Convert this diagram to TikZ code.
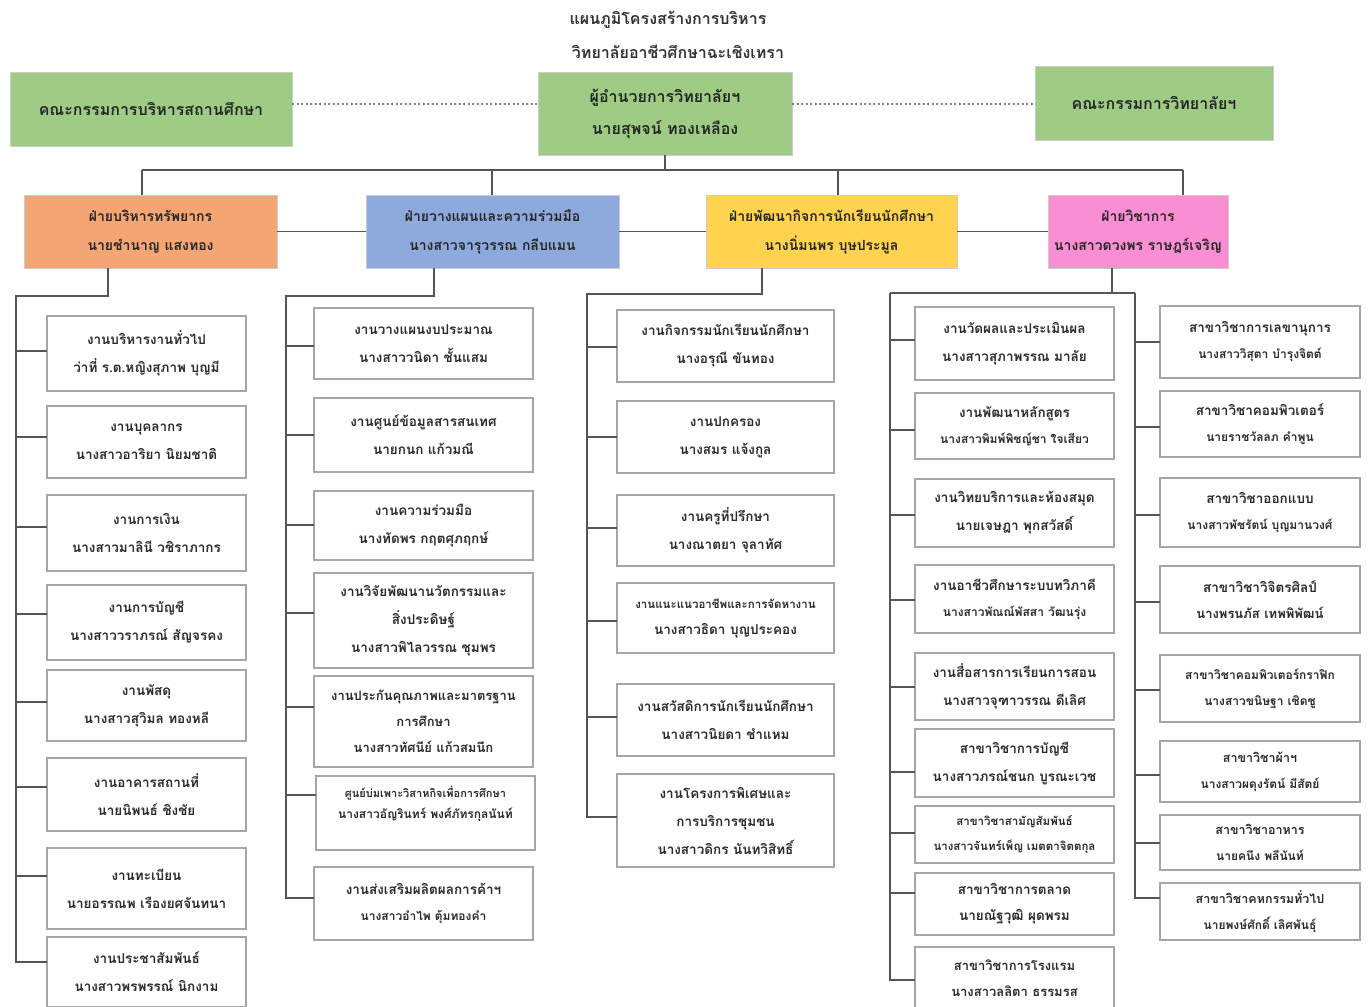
\documentclass[tikz,border=0pt]{standalone}
\usepackage{fontspec}
\newfontfamily\thai[Script=Thai]{Loma}
\definecolor{grn}{HTML}{9FCC85}
\definecolor{org}{HTML}{F4A574}
\definecolor{blu}{HTML}{8EA9DB}
\definecolor{yel}{HTML}{FFD34E}
\definecolor{pnk}{HTML}{FA8ED3}
\definecolor{txt}{HTML}{2A2A2A}
\definecolor{lnc}{HTML}{555555}
\newcommand\sz[2]{{\fontsize{#1}{26}\selectfont #2}}
\tikzset{
  ubox/.style={draw=black!35, line width=1.3pt, fill=white, inner sep=0pt, outer sep=0pt,
    align=center, text=txt, font=\thai\bfseries\fontsize{13.5}{28}\selectfont},
  small/.style={font=\thai\bfseries\fontsize{11.5}{25}\selectfont},
  tight/.style={font=\thai\bfseries\fontsize{13.5}{26}\selectfont},
  tiny/.style={font=\thai\bfseries\fontsize{10.5}{21}\selectfont},
  head/.style={draw=black!20, line width=1pt, text=black!85, font=\thai\bfseries\fontsize{14}{29}\selectfont},
  top/.style={head, font=\thai\bfseries\fontsize{16}{32}\selectfont},
  conn/.style={draw=lnc, line width=1.3pt},
  dots/.style={draw=gray, line width=1.3pt, dash pattern=on 2pt off 2.5pt},
  ttl/.style={inner sep=0pt, text=black!80, font=\thai\bfseries\fontsize{16}{18}\selectfont}
}
\newcommand\orgbox[7][]{\node[ubox,#1,minimum width={(#5-#3)*1pt},minimum height={(#6-#4)*1pt}] (#2) at ({(#3+#5)/2},{(#4+#6)/2}) {#7};}
\begin{document}
\begin{tikzpicture}[x=1pt,y=-1pt]
\useasboundingbox (0,0) rectangle (1369,1007);
\fill[white] (0,0) rectangle (1369,1007);
% title
\node[ttl] (t1) at (668,20) {แผนภูมิโครงสร้างการบริหาร};
\node[ttl] (t2) at (678,52) {วิทยาลัยอาชีวศึกษาฉะเชิงเทรา};
% top level
\orgbox[top,fill=grn]{kb}{10}{72}{292}{146}{คณะกรรมการบริหารสถานศึกษา}
\orgbox[top,fill=grn]{dir}{538}{72}{792}{155}{ผู้อำนวยการวิทยาลัยฯ\\นายสุพจน์ ทองเหลือง}
\orgbox[top,fill=grn]{kc}{1035}{66}{1273}{140}{คณะกรรมการวิทยาลัยฯ}
\draw[dots] (kb.east |- 0,104) -- (dir.west |- 0,104);
\draw[dots] (dir.east |- 0,104) -- (kc.west |- 0,104);
% level 2
\orgbox[head,fill=org]{d1}{24}{195}{277}{268}{ฝ่ายบริหารทรัพยากร\\นายชำนาญ แสงทอง}
\orgbox[head,fill=blu]{d2}{366}{195}{619}{268}{ฝ่ายวางแผนและความร่วมมือ\\นางสาวจารุวรรณ กลีบแมน}
\orgbox[head,fill=yel]{d3}{706}{195}{957}{268}{ฝ่ายพัฒนากิจการนักเรียนนักศึกษา\\นางนิ่มนพร บุษประมูล}
\orgbox[head,fill=pnk]{d4}{1048}{195}{1228}{268}{ฝ่ายวิชาการ\\นางสาวดวงพร ราษฎร์เจริญ}
\coordinate (hl) at (142,170);
\coordinate (hr) at (1183,170);
\draw[conn] (dir.south) -- (dir.south |- hl);
\draw[conn] (hl) -- (hr);
\draw[conn] (hl) -- (hl |- d1.north);
\draw[conn] (492,170) -- (d2.north -| 492,0);
\draw[conn] (838,170) -- (d3.north -| 838,0);
\draw[conn] (hr) -- (hr |- d4.north);
\draw[conn] (d1.east) -- (d2.west);
\draw[conn] (d2.east) -- (d3.west);
\draw[conn] (d3.east) -- (d4.west);
% column 1
\orgbox{c1b1}{47}{316}{246}{391}{งานบริหารงานทั่วไป\\ว่าที่ ร.ต.หญิงสุภาพ บุญมี}
\orgbox{c1b2}{47}{406}{246}{478}{งานบุคลากร\\นางสาวอาริยา นิยมชาติ}
\orgbox{c1b3}{47}{495}{246}{571}{งานการเงิน\\นางสาวมาลินี วชิราภากร}
\orgbox{c1b4}{47}{585}{246}{660}{งานการบัญชี\\นางสาววราภรณ์ สัญจรคง}
\orgbox{c1b5}{47}{670}{246}{741}{งานพัสดุ\\นางสาวสุวิมล ทองหลี}
\orgbox{c1b6}{47}{758}{246}{831}{งานอาคารสถานที่\\นายนิพนธ์ ชิงชัย}
\orgbox{c1b7}{47}{848}{246}{929}{งานทะเบียน\\นายอรรณพ เรืองยศจันทนา}
\orgbox{c1b8}{47}{937}{246}{1007}{งานประชาสัมพันธ์\\นางสาวพรพรรณ์ นิกงาม}
\coordinate (k1) at (108,296);
\coordinate (t1a) at (16,296);
\coordinate (t1b) at (16,962);
\draw[conn] (d1.south -| k1) -- (k1) -- (t1a) -- (t1b) -- (c1b8.west |- t1b);
\foreach \n/\y in {1/351,2/437,3/527,4/614,5/702,6/787,7/876}
  \draw[conn] (t1a |- 0,\y) -- (c1b\n.west |- 0,\y);
% column 2
\orgbox{c2b1}{314}{308}{533}{379}{งานวางแผนงบประมาณ\\นางสาววนิดา ชั้นแสม}
\orgbox{c2b2}{314}{398}{533}{472}{งานศูนย์ข้อมูลสารสนเทศ\\นายกนก แก้วมณี}
\orgbox{c2b3}{314}{491}{533}{560}{งานความร่วมมือ\\นางทัดพร กฤตศุภฤกษ์}
\orgbox{c2b4}{314}{573}{533}{668}{งานวิจัยพัฒนานวัตกรรมและ\\สิ่งประดิษฐ์\\นางสาวพิไลวรรณ ชุมพร}
\orgbox[tight]{c2b5}{314}{676}{533}{767}{\sz{13}{งานประกันคุณภาพและมาตรฐาน}\\\sz{13}{การศึกษา}\\\sz{13}{นางสาวทัศนีย์ แก้วสมนึก}}
\orgbox[tiny]{c2b6}{316}{776}{535}{850}{\sz{11}{ศูนย์บ่มเพาะวิสาหกิจเพื่อการศึกษา}\\\sz{12}{นางสาวอัญรินทร์ พงศ์ภัทรกุลนันท์}\\\mbox{}}
\orgbox[tight]{c2b7}{314}{867}{533}{940}{งานส่งเสริมผลิตผลการค้าฯ\\\sz{12}{นางสาวอำไพ ตุ้มทองคำ}}
\coordinate (k2) at (434,296);
\coordinate (t2a) at (286,296);
\coordinate (t2b) at (286,898);
\draw[conn] (d2.south -| k2) -- (k2) -- (t2a) -- (t2b) -- (c2b7.west |- t2b);
\foreach \n/\y in {1/346,2/435,3/525,4/613,5/707,6/795}
  \draw[conn] (t2a |- 0,\y) -- (c2b\n.west |- 0,\y);
% column 3
\orgbox{c3b1}{617}{310}{834}{382}{งานกิจกรรมนักเรียนนักศึกษา\\นางอรุณี ขันทอง}
\orgbox{c3b2}{617}{401}{834}{473}{งานปกครอง\\นางสมร แจ้งกูล}
\orgbox{c3b3}{617}{495}{834}{566}{งานครูที่ปรึกษา\\นางณาตยา จุลาทัศ}
\orgbox[tight]{c3b4}{617}{583}{834}{653}{\sz{11.5}{งานแนะแนวอาชีพและการจัดหางาน}\\นางสาวธิดา บุญประคอง}
\orgbox{c3b5}{617}{684}{834}{756}{งานสวัสดิการนักเรียนนักศึกษา\\นางสาวนิยดา ชำแหม}
\orgbox{c3b6}{617}{774}{834}{867}{งานโครงการพิเศษและ\\การบริการชุมชน\\นางสาวดิกร นันทวิสิทธิ์}
\coordinate (k3) at (762,294);
\coordinate (t3a) at (587,294);
\coordinate (t3b) at (587,817);
\draw[conn] (d3.south -| k3) -- (k3) -- (t3a) -- (t3b) -- (c3b6.west |- t3b);
\foreach \n/\y in {1/347,2/437,3/528,4/621,5/717}
  \draw[conn] (t3a |- 0,\y) -- (c3b\n.west |- 0,\y);
% column 4
\orgbox{c4b1}{915}{307}{1114}{380}{งานวัดผลและประเมินผล\\นางสาวสุภาพรรณ มาลัย}
\orgbox[tight]{c4b2}{915}{393}{1114}{459}{งานพัฒนาหลักสูตร\\\sz{12}{นางสาวพิมพ์พิชญ์ชา ใจเสียว}}
\orgbox{c4b3}{915}{479}{1114}{547}{งานวิทยบริการและห้องสมุด\\นายเจษฎา พุกสวัสดิ์}
\orgbox[tight]{c4b4}{915}{565}{1114}{633}{งานอาชีวศึกษาระบบทวิภาคี\\\sz{12}{นางสาวพัณณ์พัสสา วัฒนรุ่ง}}
\orgbox{c4b5}{915}{653}{1114}{720}{งานสื่อสารการเรียนการสอน\\นางสาวจุฑาวรรณ ดีเลิศ}
\orgbox{c4b6}{915}{729}{1114}{797}{สาขาวิชาการบัญชี\\นางสาวภรณ์ชนก บูรณะเวช}
\orgbox[small]{c4b7}{915}{806}{1114}{863}{สาขาวิชาสามัญสัมพันธ์\\นางสาวจันทร์เพ็ญ เมตตาจิตตกุล}
\orgbox[tight]{c4b8}{915}{873}{1114}{935}{สาขาวิชาการตลาด\\นายณัฐวุฒิ ผุดพรม}
\orgbox[tight]{c4b9}{915}{947}{1114}{1010}{\sz{13}{สาขาวิชาการโรงแรม}\\\sz{13}{นางสาวลลิตา ธรรมรส}}
% column 5
\orgbox[tight]{c5b1}{1160}{306}{1360}{378}{สาขาวิชาการเลขานุการ\\\sz{12}{นางสาววิสุตา บำรุงจิตต์}}
\orgbox[tight]{c5b2}{1160}{391}{1360}{457}{สาขาวิชาคอมพิวเตอร์\\\sz{12}{นายราชวัลลภ คำพูน}}
\orgbox[tight]{c5b3}{1160}{478}{1360}{547}{สาขาวิชาออกแบบ\\\sz{12}{นางสาวพัชรัตน์ บุญมานวงศ์}}
\orgbox[tight]{c5b4}{1160}{566}{1360}{633}{สาขาวิชาวิจิตรศิลป์\\\sz{13}{นางพรนภัส เทพพิพัฒน์}}
\orgbox[tight]{c5b5}{1160}{655}{1360}{722}{\sz{12}{สาขาวิชาคอมพิวเตอร์กราฟิก}\\\sz{12}{นางสาวขนิษฐา เชิดชู}}
\orgbox[tight]{c5b6}{1160}{741}{1360}{802}{\sz{12.5}{สาขาวิชาผ้าฯ}\\\sz{12}{นางสาวผดุงรัตน์ มีสัตย์}}
\orgbox[tight]{c5b7}{1160}{815}{1360}{870}{\sz{12.5}{สาขาวิชาอาหาร}\\\sz{12}{นายคนึง พลีนันท์}}
\orgbox[tight]{c5b8}{1160}{883}{1360}{940}{\sz{12.5}{สาขาวิชาคหกรรมทั่วไป}\\\sz{12}{นายพงษ์ศักดิ์ เลิศพันธุ์}}
\coordinate (k4) at (1112,293);
\coordinate (t4a) at (890,293);
\coordinate (t4b) at (890,980);
\coordinate (t5a) at (1135,293);
\coordinate (t5b) at (1135,898);
\draw[conn] (d4.south -| k4) -- (k4);
\draw[conn] (t4a) -- (t5a);
\draw[conn] (t4a) -- (t4b) -- (c4b9.west |- t4b);
\foreach \n/\y in {1/340,2/430,3/515,4/600,5/687,6/772,7/833,8/893}
  \draw[conn] (t4a |- 0,\y) -- (c4b\n.west |- 0,\y);
\draw[conn] (t5a) -- (t5b) -- (c5b8.west |- t5b);
\foreach \n/\y in {1/342,2/427,3/515,4/602,5/690,6/775,7/843}
  \draw[conn] (t5a |- 0,\y) -- (c5b\n.west |- 0,\y);
\end{tikzpicture}
\end{document}
